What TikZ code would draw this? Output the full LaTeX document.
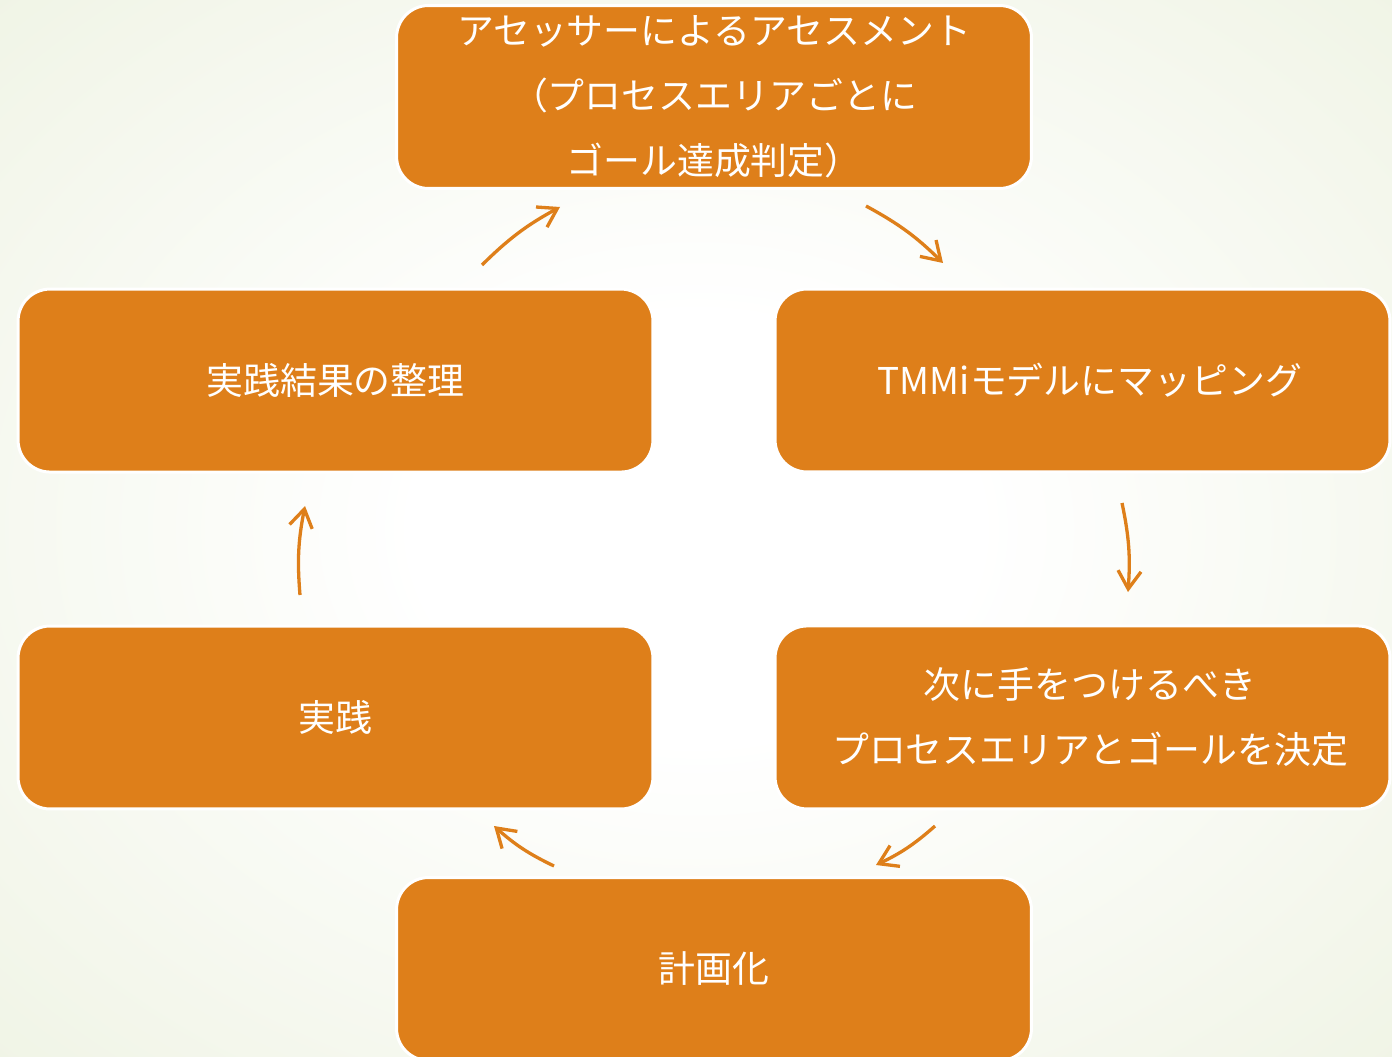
\documentclass[tikz,border=0pt]{standalone}
\usepackage{fontspec}
\newfontfamily\jp{Noto Sans CJK JP}
\usetikzlibrary{positioning, arrows.meta}
\definecolor{stage-orange}{HTML}{DE7F1A}
\definecolor{bg-green}{HTML}{E5ECD3}
\pgfdeclareradialshading{bgglow}{\pgfpoint{0bp}{0bp}}{color(0bp)=(white); color(10bp)=(white); color(55bp)=(bg-green); color(75bp)=(bg-green)}

\begin{document}
\begin{tikzpicture}[x=0.02cm, y=-0.02cm]
	\tikzset{stage/.style={rectangle, draw=white, line width=0.06cm, fill=stage-orange, rounded corners=0.64cm, minimum width=12.7cm, minimum height=3.66cm, text=white, align=center, font=\jp\fontsize{21}{37}\selectfont}}
	\tikzset{flow/.style={-{Straight Barb[length=0.36cm, width=0.46cm]}, line width=0.066cm, draw=stage-orange}}
	\useasboundingbox (0,0) rectangle (1392,1057);
	\shade[shading=bgglow] (0,0) rectangle (1392,1057);
	% boxes of the cycle
	\node[stage] (assess) at (714,97) {アセッサーによるアセスメント\\（プロセスエリアごとに\\ゴール達成判定）};
	\node[stage, minimum width=12.3cm] (mapping) at (1082.5,380.5) {\hspace*{0.3cm}TMMiモデルにマッピング};
	\node[stage, minimum width=12.3cm, below=3.02cm of mapping] (decide) {\hspace*{0.3cm}次に手をつけるべき\\\hspace*{0.3cm}プロセスエリアとゴールを決定};
	\node[stage] (plan) at (714,969) {計画化};
	\node[stage] (practice) at (335.5,717.5) {実践};
	\node[stage, above=3.02cm of practice] (sorting) {実践結果の整理};
	% arrow ends
	\coordinate (sorting out) at (482,265);
	\coordinate (assess in) at (560,207);
	\coordinate (assess out) at (866,206);
	\coordinate (mapping in) at (943,263);
	\coordinate (mapping out) at (1122,503);
	\coordinate (decide in) at (1128,592);
	\coordinate (decide out) at (935,826);
	\coordinate (plan in) at (876,865);
	\coordinate (plan out) at (554,866);
	\coordinate (practice in) at (494,826);
	\coordinate (practice out) at (300,595);
	\coordinate (sorting in) at (305,506);
	\foreach \from/\to in {sorting out/assess in, assess out/mapping in, mapping out/decide in, decide out/plan in, plan out/practice in, practice out/sorting in}
		\draw[flow] (\from) to[bend left=8] (\to);
\end{tikzpicture}
\end{document}
